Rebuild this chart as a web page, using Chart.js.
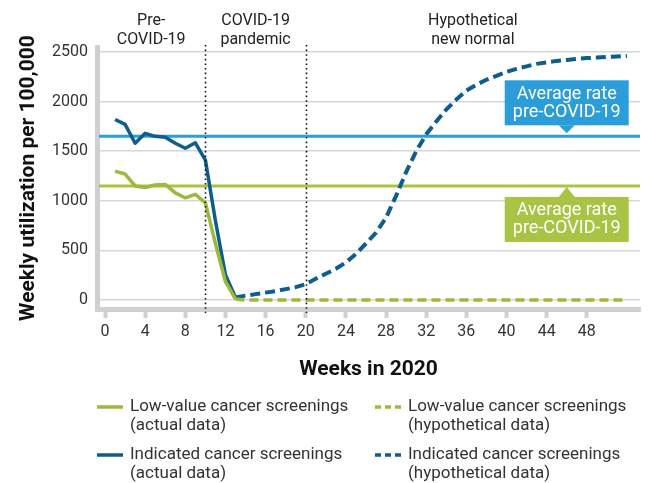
<!DOCTYPE html>
<html lang="en">
<head>
  <meta charset="UTF-8">
  <title>Weekly utilization of cancer screenings in 2020</title>
  <style>
    body {
      margin: 0;
      background: #fff;
    }
    #wrap {
      width: 649px;
      height: 483px;
      position: relative;
    }
  </style>
</head>
<body>
  <div id="wrap"><canvas id="chart"></canvas></div>

  <script src="https://cdn.jsdelivr.net/npm/chart.js"></script>
  <script>
    // data
    const weeksActual = [1, 2, 3, 4, 5, 6, 7, 8, 9, 10, 11, 12, 13];
    const lowValueActual = [1300, 1270, 1150, 1135, 1160, 1165, 1080, 1030, 1065, 980, 570, 185, 10];
    const indicatedActual = [1820, 1770, 1580, 1680, 1650, 1640, 1580, 1530, 1585, 1410, 800, 252, 27];

    const weeksHypo = [13, 14, 15, 16, 17, 18, 19, 20, 21, 22, 23, 24, 25, 26, 27, 28, 29, 30, 31, 32,
      33, 34, 35, 36, 37, 38, 39, 40, 41, 42, 43, 44, 45, 46, 47, 48, 49, 50, 51, 52];
    const lowValueHypo = [10, 0, 0, 0, 0, 0, 0, 0, 0, 0, 0, 0, 0, 0, 0, 0, 0, 0, 0, 0,
      0, 0, 0, 0, 0, 0, 0, 0, 0, 0, 0, 0, 0, 0, 0, 0, 0, 0, 0, 0];
    const indicatedHypo = [27, 45, 60, 75, 90, 110, 130, 160, 215, 265, 315, 380, 465, 570, 680, 830, 1050, 1290, 1500, 1670,
      1800, 1920, 2020, 2110, 2170, 2220, 2260, 2300, 2330, 2355, 2380, 2395, 2410, 2420, 2430, 2438, 2443, 2450, 2455, 2460];

    const avgIndicated = 1650;
    const avgLowValue = 1150;
    const calloutWeek = 46;

    const xTicks = [0, 4, 8, 12, 16, 20, 24, 28, 32, 36, 40, 44, 48];
    const yTicks = [0, 500, 1000, 1500, 2000, 2500];

    const phaseBreaks = [10, 20];
    const phaseLabels = [['Pre-', 'COVID-19'], ['COVID-19', 'pandemic'], ['Hypothetical', 'new normal']];

    const GREEN = '#9cb93c';
    const DARK_BLUE = '#0e5d8d';
    const LIGHT_BLUE = '#2b9dd8';
    const LIGHT_GREEN = '#a9c445';
    const FONT = 'Roboto, "Noto Sans", sans-serif';

    const toPoints = (xs, ys) => xs.map((x, i) => ({ x: x, y: ys[i] }));

    const legendItems = [
      { lines: ['Low-value cancer screenings', '(actual data)'], color: GREEN, dash: [], col: 0, row: 0 },
      { lines: ['Low-value cancer screenings', '(hypothetical data)'], color: GREEN, dash: [6, 4], col: 1, row: 0 },
      { lines: ['Indicated cancer screenings', '(actual data)'], color: DARK_BLUE, dash: [], col: 0, row: 1 },
      { lines: ['Indicated cancer screenings', '(hypothetical data)'], color: DARK_BLUE, dash: [6, 4], col: 1, row: 1 }
    ];

    function callout(ctx, cx, lineY, above, color) {
      const w = 124, h = 45;
      const top = above ? lineY - 11 - h : lineY + 11;
      const tipY = above ? lineY - 3 : lineY + 1;
      const baseY = above ? top + h : top;
      ctx.fillStyle = color;
      ctx.fillRect(cx - w / 2, top, w, h);
      ctx.beginPath();
      ctx.moveTo(cx - 8, baseY);
      ctx.lineTo(cx, tipY);
      ctx.lineTo(cx + 8, baseY);
      ctx.closePath();
      ctx.fill();
      ctx.fillStyle = '#fff';
      ctx.font = '18px ' + FONT;
      ctx.textAlign = 'center';
      ctx.textBaseline = 'middle';
      ctx.fillText('Average rate', cx, top + 14);
      ctx.fillText('pre-COVID-19', cx, top + 32);
    }

    const decorations = {
      id: 'decorations',
      beforeDatasetsDraw(chart) {
        const { ctx, chartArea: a, scales: { y } } = chart;
        ctx.save();
        ctx.lineWidth = 3;
        [[avgIndicated, LIGHT_BLUE], [avgLowValue, LIGHT_GREEN]].forEach(([v, c]) => {
          const py = y.getPixelForValue(v);
          ctx.strokeStyle = c;
          ctx.beginPath();
          ctx.moveTo(a.left + 2, py);
          ctx.lineTo(a.right, py);
          ctx.stroke();
        });
        ctx.restore();
      },
      afterDatasetsDraw(chart) {
        const { ctx, chartArea: a, scales: { x, y } } = chart;
        ctx.save();

        // dotted phase separators
        ctx.strokeStyle = '#111';
        ctx.lineWidth = 1.6;
        ctx.setLineDash([1.6, 3]);
        phaseBreaks.forEach(w => {
          const px = Math.round(x.getPixelForValue(w)) + 0.5;
          ctx.beginPath();
          ctx.moveTo(px, a.top - 2);
          ctx.lineTo(px, a.bottom + 4);
          ctx.stroke();
        });
        ctx.setLineDash([]);

        // phase headings
        const bounds = [x.min].concat(phaseBreaks, [x.max]);
        ctx.fillStyle = '#222';
        ctx.font = '16px ' + FONT;
        ctx.textAlign = 'center';
        ctx.textBaseline = 'middle';
        phaseLabels.forEach((lines, i) => {
          const cx = (x.getPixelForValue(bounds[i]) + x.getPixelForValue(bounds[i + 1])) / 2;
          lines.forEach((t, j) => ctx.fillText(t, cx, 21 + j * 19));
        });

        // callouts
        const cx = x.getPixelForValue(calloutWeek);
        callout(ctx, cx, y.getPixelForValue(avgIndicated), true, LIGHT_BLUE);
        callout(ctx, cx, y.getPixelForValue(avgLowValue), false, LIGHT_GREEN);
        ctx.restore();
      },
      afterDraw(chart) {
        const ctx = chart.ctx;
        const colX = [97, 375];
        const rowY = [407, 455];
        ctx.save();
        ctx.font = '17px ' + FONT;
        ctx.textAlign = 'left';
        ctx.textBaseline = 'middle';
        legendItems.forEach(it => {
          const lx = colX[it.col], ly = rowY[it.row];
          ctx.strokeStyle = it.color;
          ctx.lineWidth = 3.5;
          ctx.setLineDash(it.dash);
          ctx.beginPath();
          ctx.moveTo(lx, ly);
          ctx.lineTo(lx + 26, ly);
          ctx.stroke();
          ctx.setLineDash([]);
          ctx.fillStyle = '#333';
          it.lines.forEach((t, j) => ctx.fillText(t, lx + 33, ly + j * 19));
        });
        ctx.restore();
      }
    };

    new Chart(document.getElementById('chart'), {
      type: 'line',
      data: {
        datasets: [
          {
            label: 'Low-value cancer screenings (actual data)',
            data: toPoints(weeksActual, lowValueActual),
            borderColor: GREEN,
            borderWidth: 3.5
          },
          {
            label: 'Indicated cancer screenings (actual data)',
            data: toPoints(weeksActual, indicatedActual),
            borderColor: DARK_BLUE,
            borderWidth: 3.5
          },
          {
            label: 'Low-value cancer screenings (hypothetical data)',
            data: toPoints(weeksHypo, lowValueHypo),
            borderColor: GREEN,
            borderWidth: 3.5,
            borderDash: [9, 5]
          },
          {
            label: 'Indicated cancer screenings (hypothetical data)',
            data: toPoints(weeksHypo, indicatedHypo),
            borderColor: DARK_BLUE,
            borderWidth: 4,
            borderDash: [10, 5]
          }
        ]
      },
      options: {
        responsive: true,
        maintainAspectRatio: false,
        animation: false,
        layout: { padding: { top: 47, right: 9, bottom: 93, left: 0 } },
        elements: {
          point: { radius: 0 },
          line: { tension: 0, borderJoinStyle: 'round', fill: false }
        },
        plugins: {
          legend: { display: false },
          tooltip: { enabled: false }
        },
        scales: {
          x: {
            type: 'linear',
            min: -0.8,
            max: 53.3,
            afterBuildTicks: s => { s.ticks = xTicks.map(v => ({ value: v })); },
            afterFit: s => { s.height = 81; },
            grid: { drawOnChartArea: false, drawTicks: true, tickLength: 9, tickWidth: 4, tickColor: '#d0d0d0' },
            border: { display: true, color: '#d0d0d0', width: 5 },
            ticks: { color: '#333', font: { family: FONT, size: 16 }, padding: 4, maxRotation: 0, autoSkip: false },
            title: {
              display: true,
              text: 'Weeks in 2020',
              color: '#111',
              font: { family: FONT, size: 21, weight: 'bold' },
              padding: { top: 0, bottom: 8 }
            }
          },
          y: {
            min: -90,
            max: 2550,
            afterBuildTicks: s => { s.ticks = yTicks.map(v => ({ value: v })); },
            afterFit: s => { s.width = 97; },
            grid: { color: '#d6d6d6', lineWidth: 1.5, drawTicks: false },
            border: { display: true, color: '#d0d0d0', width: 5 },
            ticks: {
              color: '#333',
              font: { family: FONT, size: 16 },
              padding: 9,
              callback: v => String(v)
            },
            title: {
              display: true,
              text: 'Weekly utilization per 100,000',
              color: '#111',
              font: { family: FONT, size: 21, weight: 'bold' },
              padding: { top: 16, bottom: 0 }
            }
          }
        }
      },
      plugins: [decorations]
    });
  </script>
</body>
</html>
